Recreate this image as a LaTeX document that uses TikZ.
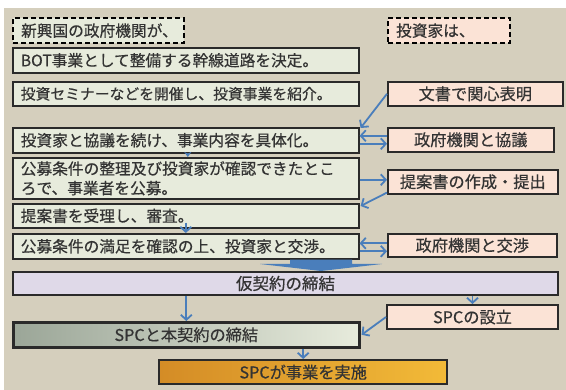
\documentclass[tikz,border=0pt]{standalone}
\usepackage{fontspec}
\setmainfont{Noto Sans CJK JP}[FakeBold=0.5]
\usetikzlibrary{arrows.meta}
\definecolor{bg}{HTML}{D5CFBD}
\definecolor{gfill}{HTML}{E7EBDC}
\definecolor{pfill}{HTML}{FBE3D6}
\definecolor{lfill}{HTML}{DFD9E8}
\definecolor{bordc}{HTML}{2A2A2A}
\definecolor{txt}{HTML}{333333}
\definecolor{arrc}{HTML}{4A7EBB}
\definecolor{gdark}{HTML}{9BA698}
\definecolor{orL}{HTML}{D48C26}
\definecolor{orR}{HTML}{F2BA38}
\begin{document}
\begin{tikzpicture}[x=1pt,y=-1pt,
  base/.style={draw=bordc, line width=1.6pt, text=txt, inner ysep=0pt, anchor=north west,
    font=\fontsize{15.7}{19.5}\selectfont},
  lbox/.style={base, fill=gfill, text width=330pt, inner xsep=8pt, align=left},
  rbox/.style={base, fill=pfill, inner xsep=0pt, align=center, font=\fontsize{16.2}{19}\selectfont},
  dbox/.style={base, draw=black, line width=2.2pt, dash pattern=on 5pt off 3pt, align=left, inner xsep=8pt},
  arr/.style={draw=arrc, line width=1.8pt, -{Straight Barb[length=5pt,width=11pt]}},
  sarr/.style={draw=arrc, line width=1.2pt, -{Stealth[length=5pt,width=7pt]}}
]
\useasboundingbox (0,0) rectangle (566,390);
\fill[bg] (4,8) rectangle (566,390);

% titles
\node[dbox, fill=gfill, text width=155pt, minimum height=25pt] (t1) at (12,17) {新興国の政府機関が、};
\node[dbox, fill=pfill, text width=106pt, minimum height=25pt] (t2) at (387,17) {投資家は、};

% left column
\node[lbox, minimum height=25pt] (bot) at (12,47) {BOT事業として整備する幹線道路を決定。};
\node[lbox, minimum height=24pt, font=\fontsize{14.8}{19}\selectfont] (sem) at (12,81) {投資セミナーなどを開催し、投資事業を紹介。};
\node[lbox, minimum height=25pt] (kyo) at (12,127) {投資家と協議を続け、事業内容を具体化。};
\node[lbox, minimum height=41pt] (kou) at (12,157) {公募条件の整理及び投資家が確認できたとこ\\ろで、事業者を公募。};
\node[lbox, minimum height=24pt] (jur) at (12,203) {提案書を受理し、審査。};
\node[lbox, minimum height=25pt] (man) at (12,233) {公募条件の満足を確認の上、投資家と交渉。};

% right column
\node[rbox, minimum width=175pt, minimum height=24pt] (r1) at (387,81) {文書で関心表明};
\node[rbox, minimum width=166pt, minimum height=24pt] (r2) at (387,127) {政府機関と協議};
\node[rbox, minimum width=170pt, minimum height=24pt] (r3) at (387,169) {提案書の作成・提出};
\node[rbox, minimum width=169pt, minimum height=23pt] (r4) at (387,233) {政府機関と交渉};

% block arrow
\fill[arrc] (man.south -| 290,0) -- (man.south -| 352,0) -- (352,264) -- (382,264)
  -- (321,271) -- (260,264) -- (290,264) -- cycle;

% bottom
\node[base, fill=lfill, line width=2pt, minimum width=545pt, minimum height=23pt, inner xsep=0pt,
  font=\fontsize{16.5}{19}\selectfont] (kari) at (12,271) {仮契約の締結};
\node[rbox, line width=2pt, minimum width=171pt, minimum height=24pt] (spc) at (386,304) {SPCの設立};
\node[base, line width=2.6pt, left color=gdark, right color=gfill, minimum width=346pt, minimum height=25pt,
  inner xsep=0pt, font=\fontsize{16.2}{19}\selectfont] (hon) at (12,321) {SPCと本契約の締結};
\node[base, line width=2.4pt, left color=orL, right color=orR, minimum width=288pt, minimum height=24pt,
  inner xsep=0pt, font=\fontsize{16.2}{19}\selectfont] (jis) at (158,359) {SPCが事業を実施};

% connectors
\draw[arr] (r1.west) -- ([xshift=1pt,yshift=-1pt]kyo.north east);
\draw[arr] ([yshift=4pt]r2.west) -- ([yshift=4pt]r2.west -| kyo.east);
\draw[arr] ([yshift=-4pt]r2.west -| kyo.east) -- ([yshift=-4pt]r2.west);
\draw[arr] ([yshift=2pt]kou.east |- r3.west) -- ([yshift=2pt]r3.west);
\draw[arr] ([yshift=2pt]r3.south west) -- ([xshift=1pt,yshift=-3pt]jur.north east);
\draw[arr] ([yshift=2pt]r4.west) -- ([yshift=2pt]r4.west -| man.east);
\draw[arr] ([yshift=-6pt]r4.west -| man.east) -- ([yshift=-6pt]r4.west);
\draw[sarr] ([xshift=2pt]kyo.south) -- ([xshift=2pt]kou.north);
\draw[arr] ([yshift=6pt]jur.south) -- (man.north);
\draw[arr] (kari.south -| hon.north) -- (hon.north);
\draw[arr] (kari.south -| spc.north) -- (spc.north);
\draw[arr] (spc.west) -- ([xshift=1pt]hon.east);
\draw[arr] (hon.south -| jis.north) -- (jis.north);
\end{tikzpicture}
\end{document}
